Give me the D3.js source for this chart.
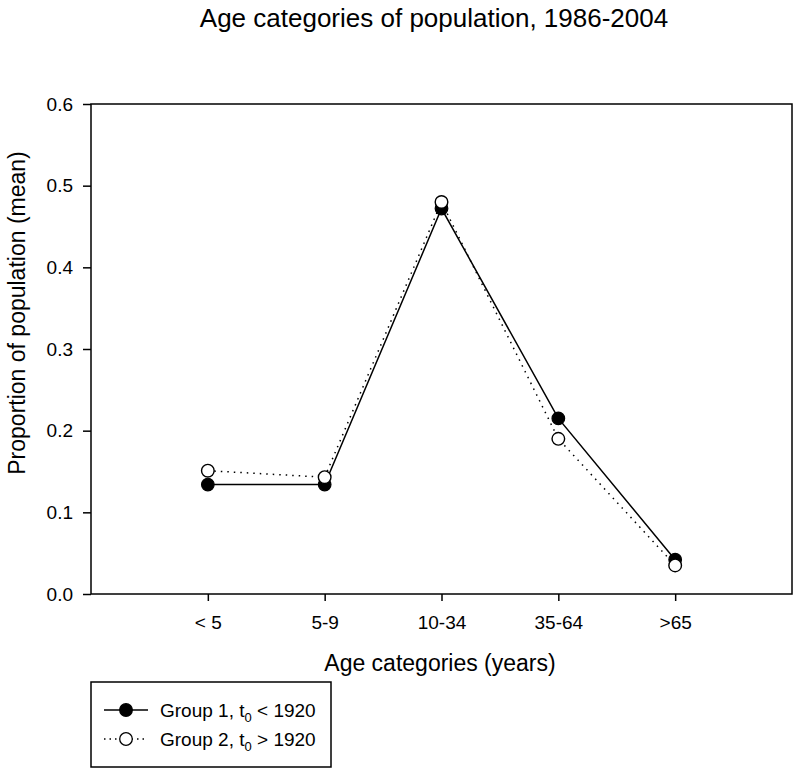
<!DOCTYPE html>
<html>
<head>
<meta charset="utf-8">
<script src="https://cdn.jsdelivr.net/npm/d3@7"></script>
<style>
  body { margin: 0; background: #fff; }
  svg { font-family: "Liberation Sans", Arial, sans-serif; }
</style>
</head>
<body>
<svg id="chart" width="800" height="776"></svg>
<script>
const categories = ["< 5", "5-9", "10-34", "35-64", ">65"];
const group1 = [0.134, 0.134, 0.472, 0.215, 0.042];
const group2 = [0.151, 0.143, 0.480, 0.190, 0.035];
const yTicks = [0.0, 0.1, 0.2, 0.3, 0.4, 0.5, 0.6];

const svg = d3.select("#chart");
const margin = {top: 104, right: 8, bottom: 182, left: 91};
const width = 800 - margin.left - margin.right;
const height = 776 - margin.top - margin.bottom;

const g = svg.append("g").attr("transform", "translate(" + margin.left + "," + margin.top + ")");

// categories sit at 1..5 on a 0..6 axis
const x = d3.scaleLinear().domain([0, 6]).range([0, width]);
const y = d3.scaleLinear().domain([0, 0.6]).range([height, 0]);

// frame
g.append("rect")
  .attr("width", width).attr("height", height)
  .attr("fill", "none").attr("stroke", "#000").attr("stroke-width", 1.5);

const xAxis = d3.axisBottom(x)
  .tickValues(d3.range(1, categories.length + 1))
  .tickFormat(d => categories[d - 1])
  .tickSize(7).tickPadding(15);
const gx = g.append("g").attr("transform", "translate(0," + height + ")").call(xAxis);

const yAxis = d3.axisLeft(y).tickValues(yTicks).tickFormat(d3.format(".1f")).tickSize(8).tickPadding(10);
const gy = g.append("g").call(yAxis);

[gx, gy].forEach(a => {
  a.attr("font-size", null).attr("font-family", null);
  a.select(".domain").remove();
  a.selectAll("line").attr("stroke", "#000").attr("stroke-width", 1.5);
  a.selectAll("text").attr("fill", "#000").style("font-size", "19px");
});

const line = d3.line()
  .x((d, i) => x(i + 1))
  .y(d => y(d));

g.append("path").datum(group1)
  .attr("fill", "none").attr("stroke", "#000").attr("stroke-width", 1.5)
  .attr("d", line);
g.append("path").datum(group2)
  .attr("fill", "none").attr("stroke", "#000").attr("stroke-width", 1.5)
  .attr("stroke-dasharray", "1.5,5")
  .attr("d", line);

g.selectAll(".p1").data(group1).enter().append("circle")
  .attr("cx", (d, i) => x(i + 1)).attr("cy", d => y(d)).attr("r", 6.3)
  .attr("fill", "#000").attr("stroke", "#000").attr("stroke-width", 1.2);
g.selectAll(".p2").data(group2).enter().append("circle")
  .attr("cx", (d, i) => x(i + 1)).attr("cy", d => y(d)).attr("r", 6.3)
  .attr("fill", "#fff").attr("stroke", "#000").attr("stroke-width", 1.4);

// titles
svg.append("text").attr("x", 434).attr("y", 27).attr("text-anchor", "middle")
  .style("font-size", "26px").text("Age categories of population, 1986-2004");
svg.append("text").attr("x", 440).attr("y", 671).attr("text-anchor", "middle")
  .style("font-size", "23px").text("Age categories (years)");
svg.append("text").attr("transform", "translate(25,313) rotate(-90)")
  .attr("text-anchor", "middle").style("font-size", "23px").text("Proportion of population (mean)");

// legend
const lg = svg.append("g").attr("transform", "translate(91,682)");
lg.append("rect").attr("width", 240).attr("height", 85)
  .attr("fill", "#fff").attr("stroke", "#000").attr("stroke-width", 1.5);
const items = [
  {label: "Group 1, t", sub: "0", rest: " < 1920", dash: null, fill: "#000", yy: 28},
  {label: "Group 2, t", sub: "0", rest: " > 1920", dash: "1.5,4", fill: "#fff", yy: 57}
];
items.forEach(it => {
  lg.append("line").attr("x1", 13).attr("x2", 57).attr("y1", it.yy).attr("y2", it.yy)
    .attr("stroke", "#000").attr("stroke-width", 1.5).attr("stroke-dasharray", it.dash);
  lg.append("circle").attr("cx", 35).attr("cy", it.yy).attr("r", 6.3)
    .attr("fill", it.fill).attr("stroke", "#000").attr("stroke-width", 1.3);
  const t = lg.append("text").attr("x", 69).attr("y", it.yy + 7).style("font-size", "19px");
  t.append("tspan").text(it.label);
  t.append("tspan").attr("dy", 5).style("font-size", "13px").text(it.sub);
  t.append("tspan").attr("dy", -5).text(it.rest);
});
</script>
</body>
</html>
